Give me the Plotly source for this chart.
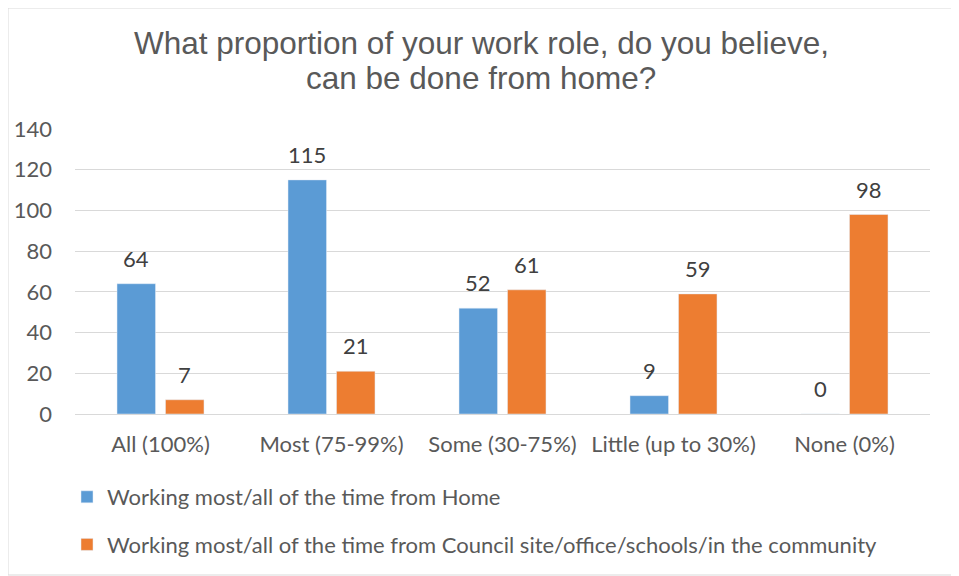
import plotly.graph_objects as go

categories = ["All (100%)", "Most (75-99%)", "Some (30-75%)", "Little (up to 30%)", "None (0%)"]
home = [64, 115, 52, 9, 0]
council = [7, 21, 61, 59, 98]
series_names = ["Working most/all of the time from Home",
                "Working most/all of the time from Council site/office/schools/in the community"]
yticks = [0, 20, 40, 60, 80, 100, 120, 140]
title_lines = ["What proportion of your work role, do you believe,", "can be done from home?"]

# the page body adds an 8px offset; work in figure coords = screen coords - 8
OFF = 8
W, H = 959 - OFF, 576 - OFF
L, T = 75 - OFF, 129 - OFF
R = W - (930 - OFF)
B = H - (414 - OFF)
pw, ph = W - L - R, H - T - B

font_main = "Lato, Carlito, Calibri, Open Sans, sans-serif"
txtcol = "#595959"
lblcol = "#404040"

bargap, bargroupgap = 0.433, 0.206
slot = pw / len(categories) * (1 - bargap) / 2
offsets = [-slot / 2, slot / 2]

def px_x(x):
    return (x - OFF - L) / pw

def px_y(y):
    return 1 - (y - OFF - T) / ph

fig = go.Figure()
annotations = []
for k, (name, vals, col, grp) in enumerate([(series_names[0], home, "#5b9bd5", "a"),
                                            (series_names[1], council, "#ed7d31", "b")]):
    fig.add_trace(go.Bar(
        x=categories, y=vals, name=name, marker_color=col,
        legendgroup=grp, hoverinfo="x+y+name",
    ))
    for c, v in zip(categories, vals):
        annotations.append(dict(
            x=c, y=v, xref="x", yref="y", text=str(v), showarrow=False,
            xshift=offsets[k], yshift=10, yanchor="bottom", xanchor="center",
            font=dict(size=22, color=lblcol, family=font_main),
        ))

for line, yc in zip(title_lines, [43, 78]):
    annotations.append(dict(
        text=line, xref="paper", yref="paper", x=px_x(481), y=px_y(yc),
        xanchor="center", yanchor="middle", showarrow=False,
        font=dict(family="Liberation Sans, Arial, sans-serif", size=31.5, color=txtcol),
    ))

fig.update_layout(
    width=W, height=H,
    margin=dict(l=L, r=R, t=T, b=B, autoexpand=False),
    paper_bgcolor="white", plot_bgcolor="white",
    barmode="group", bargap=bargap, bargroupgap=bargroupgap,
    font=dict(family=font_main, color=txtcol, size=22),
    yaxis=dict(range=[0, 140], tickvals=yticks, showgrid=True, gridcolor="#d9d9d9",
               gridwidth=1, zeroline=True, zerolinecolor="#d9d9d9", zerolinewidth=1,
               showline=False, ticks="", tickfont=dict(size=22, color=txtcol),
               ticklabelstandoff=22, automargin=False),
    xaxis=dict(showline=True, linecolor="#d9d9d9", ticks="", tickfont=dict(size=22, color=txtcol),
               ticklabelstandoff=11, automargin=False),
    legend=dict(orientation="v", x=px_x(67), xanchor="left", y=px_y(476),
                yanchor="top", font=dict(size=22, color=txtcol), tracegroupgap=16,
                bgcolor="rgba(0,0,0,0)", itemwidth=30),
    showlegend=True,
    annotations=annotations,
    shapes=[dict(type="rect", xref="paper", yref="paper",
                 x0=px_x(OFF), x1=px_x(957),
                 y0=px_y(575), y1=px_y(OFF),
                 line=dict(color="#d9d9d9", width=1), fillcolor="rgba(0,0,0,0)", layer="below")],
)

fig.write_html("out.html")
